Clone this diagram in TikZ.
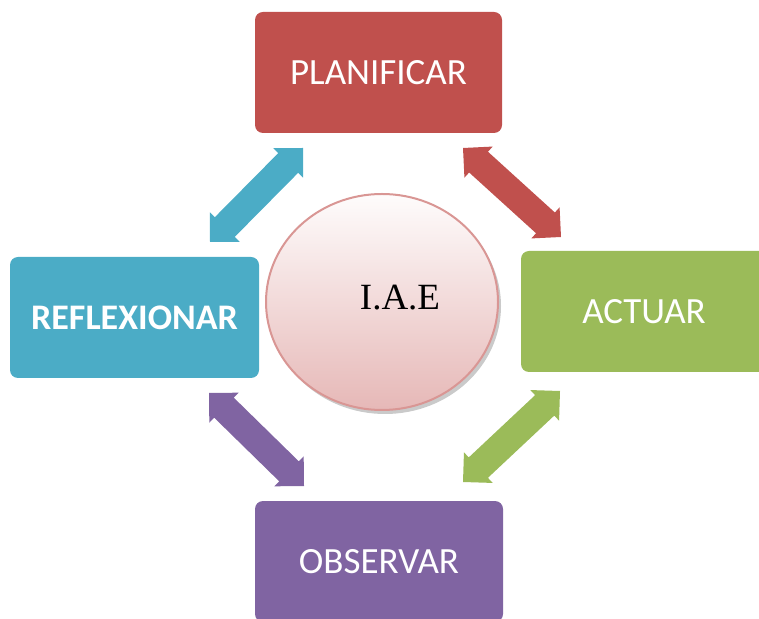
\documentclass[tikz,border=0pt]{standalone}
\usepackage{fontspec}
\setmainfont{Carlito}
\newfontfamily\serifface{Liberation Serif}
\usetikzlibrary{calc,shapes.geometric,shadows}
\definecolor{cred}{HTML}{C0504D}
\definecolor{cgreen}{HTML}{9BBB59}
\definecolor{cblue}{HTML}{4BACC6}
\definecolor{cpurple}{HTML}{8064A2}
\definecolor{ctop}{HTML}{FEFCFC}
\definecolor{cbot}{HTML}{E6B8B7}
\definecolor{cring}{HTML}{D99694}
\newcommand\blockarrow[3]{%
  \fill[#1] (#2) -- ($(#2)!29.7pt!45:(#3)$) -- ($(#2)!25.24pt!33.69:(#3)$)
    -- ($(#3)!25.24pt!-33.69:(#2)$) -- ($(#3)!29.7pt!-45:(#2)$) -- (#3)
    -- ($(#3)!29.7pt!45:(#2)$) -- ($(#3)!25.24pt!33.69:(#2)$)
    -- ($(#2)!25.24pt!-33.69:(#3)$) -- ($(#2)!29.7pt!-45:(#3)$) -- cycle;}
\tikzset{
  stagebox/.style={rectangle, rounded corners=8pt, minimum height=121pt,
    inner sep=0pt, text=white, font=\fontsize{37}{40}\selectfont},
}
\begin{document}
\begin{tikzpicture}[x=1pt,y=1pt]
\useasboundingbox (0,0) rectangle (759,618);
\clip (0,0) rectangle (759,618);
% boxes
\node[stagebox, fill=cred, minimum width=247pt] (plan) at (378.5,545.5) {PLANIFICAR};
\node[stagebox, fill=cgreen, minimum width=246pt] (act) at (644,306.5) {ACTUAR};
\node[stagebox, fill=cblue, minimum width=249pt, font=\fontsize{36}{40}\selectfont\bfseries] (refl) at (134.5,300.5) {REFLEXIONAR};
\node[stagebox, fill=cpurple, minimum width=248pt] (obs) at (379,56.5) {OBSERVAR};
% centre circle
\node[ellipse, minimum width=232pt, minimum height=216pt, inner sep=0pt,
  draw=cring, line width=2pt, top color=ctop, bottom color=cbot,
  drop shadow={shadow xshift=3pt, shadow yshift=-4pt, fill=black!35, opacity=0.6}] (iae) at (382,316) {};
\node[font=\serifface\fontsize{37}{40}\selectfont, text=black] (iaet) at (400,320) {I.A.E};
% arrow ends
\coordinate (b1) at (210,376); \coordinate (b2) at (303,470);
\coordinate (r1) at (463,470); \coordinate (r2) at (561,381);
\coordinate (g1) at (560,227); \coordinate (g2) at (463,136);
\coordinate (p1) at (209,225); \coordinate (p2) at (304,132);
\blockarrow{cblue}{b1}{b2}
\blockarrow{cred}{r1}{r2}
\blockarrow{cgreen}{g1}{g2}
\blockarrow{cpurple}{p1}{p2}
\end{tikzpicture}
\end{document}
